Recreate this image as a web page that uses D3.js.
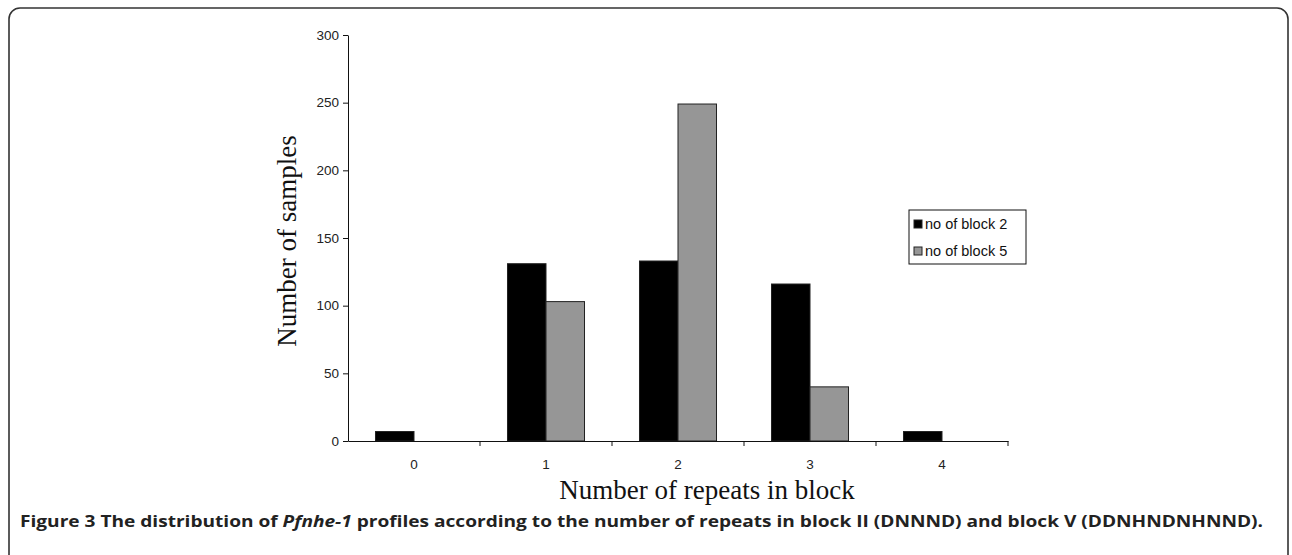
<!DOCTYPE html>
<html>
<head>
<meta charset="utf-8">
<script src="https://cdn.jsdelivr.net/npm/d3@7"></script>
<style>
  body { margin: 0; background: #fff; }
  svg { display: block; }
  .tick text { font-family: "Liberation Sans", Arial, sans-serif; font-size: 13.5px; fill: #222; }
  .label { font-family: "Liberation Serif", "Times New Roman", serif; font-size: 27px; fill: #111; }
  .legend text { font-family: "Liberation Sans", Arial, sans-serif; font-size: 14.5px; fill: #111; }
  .caption { font-family: "Open Sans", "Noto Sans", sans-serif; font-weight: bold; font-size: 16px; fill: #222; }
</style>
</head>
<body>
<svg class="fig" width="1292" height="555"></svg>
<script>
// categories and series
const categories = ['0', '1', '2', '3', '4']
const seriesNames = ['no of block 2', 'no of block 5']
const block2 = [7, 131, 133, 116, 7]
const block5 = [0, 103, 249, 40, 0]
const yTicks = [0, 50, 100, 150, 200, 250, 300]
const colors = ['#000000', '#969696']

const svg = d3.select('.fig')

// panel frame, open at the bottom edge
svg.append('rect')
  .attr('x', 9)
  .attr('y', 8)
  .attr('width', 1279)
  .attr('height', 600)
  .attr('rx', 11)
  .attr('fill', 'none')
  .attr('stroke', '#333')
  .attr('stroke-width', 1.6)

const plotLeft = 348
const plotRight = 1008
const plotTop = 35
const plotBottom = 441

const xScale = d3.scaleBand()
  .domain(categories)
  .range([plotLeft, plotRight])
  .padding(0)

const xInner = d3.scaleBand()
  .domain(seriesNames)
  .range([0, xScale.bandwidth()])
  .paddingInner(0)
  .paddingOuter(0.714)

const yScale = d3.scaleLinear()
  .domain([0, 300])
  .range([plotBottom, plotTop])

// bars
const values = [block2, block5]
const bars = []
seriesNames.forEach((s, si) => {
  categories.forEach((c, ci) => {
    bars.push({ series: s, si: si, cat: c, value: values[si][ci] })
  })
})

svg.append('g')
  .selectAll('rect')
  .data(bars.filter(d => d.value > 0))
  .enter()
  .append('rect')
  .attr('x', d => xScale(d.cat) + xInner(d.series))
  .attr('y', d => yScale(d.value))
  .attr('width', xInner.bandwidth())
  .attr('height', d => yScale(0) - yScale(d.value))
  .attr('fill', d => colors[d.si])
  .attr('stroke', '#222')
  .attr('stroke-width', 1)

// y axis
const yAxis = svg.append('g')
  .attr('transform', `translate(${plotLeft}, 0)`)
  .call(d3.axisLeft(yScale).tickValues(yTicks).tickSize(5).tickSizeOuter(0).tickPadding(4))
yAxis.selectAll('path, line').attr('stroke', '#111')

// x axis: labels at band centres, ticks at band boundaries
const xAxis = svg.append('g')
  .attr('transform', `translate(0, ${plotBottom})`)
  .call(d3.axisBottom(xScale).tickSize(0).tickSizeOuter(0).tickPadding(18))
xAxis.select('.domain').attr('stroke', '#111')

svg.append('g')
  .selectAll('line')
  .data(categories)
  .enter()
  .append('line')
  .attr('x1', c => xScale(c) + xScale.step())
  .attr('x2', c => xScale(c) + xScale.step())
  .attr('y1', plotBottom)
  .attr('y2', plotBottom + 5)
  .attr('stroke', '#111')

// axis titles
svg.append('text')
  .attr('class', 'label')
  .attr('transform', 'translate(296, 241) rotate(-90)')
  .attr('text-anchor', 'middle')
  .text('Number of samples')

svg.append('text')
  .attr('class', 'label')
  .attr('x', 707)
  .attr('y', 499)
  .attr('text-anchor', 'middle')
  .text('Number of repeats in block')

// legend
const legend = svg.append('g').attr('class', 'legend')
legend.append('rect')
  .attr('x', 909)
  .attr('y', 210)
  .attr('width', 117)
  .attr('height', 54)
  .attr('fill', '#fff')
  .attr('stroke', '#111')
  .attr('stroke-width', 1)

seriesNames.forEach((s, i) => {
  const cy = 224 + i * 27
  legend.append('rect')
    .attr('x', 914)
    .attr('y', cy - 4)
    .attr('width', 8)
    .attr('height', 8)
    .attr('fill', colors[i])
    .attr('stroke', '#222')
  legend.append('text')
    .attr('x', 925)
    .attr('y', cy + 5)
    .text(s)
})

// caption
const caption = svg.append('text')
  .attr('class', 'caption')
  .attr('x', 20)
  .attr('y', 527)
  .attr('textLength', 1243)
  .attr('lengthAdjust', 'spacingAndGlyphs')
caption.append('tspan').text('Figure 3 The distribution of ')
caption.append('tspan').attr('font-style', 'italic').text('Pfnhe-1')
caption.append('tspan').text(' profiles according to the number of repeats in block II (DNNND) and block V (DDNHNDNHNND).')
</script>
</body>
</html>
